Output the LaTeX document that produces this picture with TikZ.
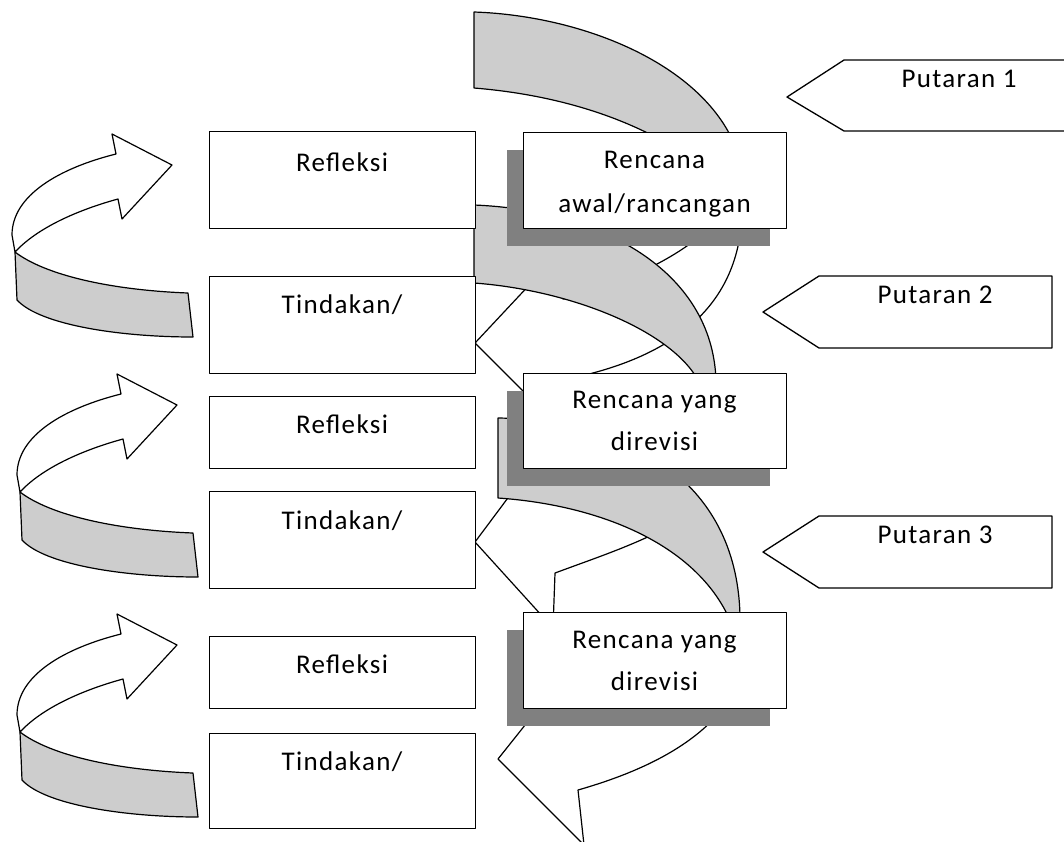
\documentclass[tikz,border=0pt]{standalone}
\usepackage{fontspec}
\setmainfont{Carlito}[LetterSpace=5]
\usetikzlibrary{shadows}
\definecolor{bandc}{RGB}{205,205,205}
\definecolor{shd}{RGB}{128,128,128}
\tikzset{
  band/.style={draw=black, line width=1.2pt, fill=bandc},
  wband/.style={draw=black, line width=1.2pt, fill=white},
  lbox/.style={draw=black, line width=1.3pt, fill=white, rectangle, anchor=north west, inner sep=0pt},
  rbox/.style={lbox, drop shadow={shadow xshift=-17pt, shadow yshift=-17pt, fill=shd, opacity=1}},
  txt/.style={anchor=base, inner sep=0pt},
  tag/.style={draw=black, line width=1.3pt, fill=white},
  curlarrow/.pic={
    \draw[wband] (172,165) -- (112,134) -- (116,154) .. controls (60,168) and (12,195) .. (12,235)
       -- (15,252) .. controls (40,225) and (85,208) .. (118,199) -- (122,219) -- cycle;
    \draw[band] (15,252) .. controls (45,275) and (110,290) .. (188,293) -- (193,337)
       .. controls (120,337) and (40,325) .. (17,300) -- cycle;
  }
}
\begin{document}
\begin{tikzpicture}[x=1pt,y=-1pt,line join=round,
  every node/.style={font=\fontsize{27}{43}\selectfont}]
\useasboundingbox (0,0) rectangle (1064,841);
\clip (0,0) rectangle (1064,841);

% left curled arrows
\pic at (0,0) {curlarrow};
\pic at (5,240) {curlarrow};
\pic at (5,480) {curlarrow};

% big spiral arrows
\draw[wband] (475,343) -- (548,265) -- (563,299) .. controls (620,285) and (680,258) .. (712,225)
  -- (742,200) .. controls (745,300) and (680,355) .. (572,378) -- (560,382) -- (532,400) -- cycle;
\draw[band] (474,12) .. controls (590,16) and (715,70) .. (740,160) -- (700,165)
  .. controls (640,120) and (560,95) .. (474,88) -- cycle;

\draw[wband] (475,542) -- (525,475) -- (545,478) .. controls (600,465) and (660,450) .. (700,445)
  -- (690,458) .. controls (690,500) and (675,525) .. (652,535)
  .. controls (620,550) and (590,560) .. (555,573) -- (553,628) -- cycle;
\draw[band] (474,205) .. controls (600,210) and (712,270) .. (716,380) -- (698,380)
  .. controls (670,330) and (570,290) .. (474,283) -- cycle;

\draw[wband] (498,759) -- (545,700) -- (565,712) .. controls (620,700) and (680,690) .. (720,680)
  -- (740,680) .. controls (712,745) and (630,775) .. (578,790) -- (584,845) -- cycle;
\draw[band] (498,418) .. controls (640,420) and (742,490) .. (740,625) -- (732,625)
  .. controls (700,545) and (600,505) .. (498,498) -- cycle;

% left boxes
\node[lbox, minimum width=266pt, minimum height=97pt] (r1) at (209,131) {};
\node[lbox, minimum width=266pt, minimum height=97pt] (t1) at (209,276) {};
\node[lbox, minimum width=266pt, minimum height=72pt] (r2) at (209,396) {};
\node[lbox, minimum width=266pt, minimum height=97pt] (t2) at (209,491) {};
\node[lbox, minimum width=266pt, minimum height=72pt] (r3) at (209,636) {};
\node[lbox, minimum width=266pt, minimum height=95pt] (t3) at (209,733) {};
\node[txt] (r1t) at (342,171) {Refleksi};
\node[txt] (t1t) at (342,313) {Tindakan/};
\node[txt] (r2t) at (342,433) {Refleksi};
\node[txt] (t2t) at (342,529) {Tindakan/};
\node[txt] (r3t) at (342,673) {Refleksi};
\node[txt] (t3t) at (342,770) {Tindakan/};

% plan boxes with shadow
\node[rbox, minimum width=263pt, minimum height=96pt] (p1) at (523,132) {};
\node[rbox, minimum width=263pt, minimum height=95pt] (p2) at (523,373) {};
\node[rbox, minimum width=263pt, minimum height=96pt] (p3) at (523,612) {};
\node[txt] (p1a) at (654.5,168) {Rencana};
\node[txt] (p1b) at (654.5,212) {awal/rancangan};
\node[txt] (p2a) at (654.5,408) {Rencana yang};
\node[txt] (p2b) at (654.5,450) {direvisi};
\node[txt] (p3a) at (654.5,648) {Rencana yang};
\node[txt] (p3b) at (654.5,690) {direvisi};

% Putaran tags
\draw[tag] (1080,60) -- (844,60) -- (787,97) -- (844,131) -- (1080,131);
\draw[tag] (1052,276) -- (819,276) -- (763,312) -- (819,348) -- (1052,348) -- cycle;
\draw[tag] (1052,516) -- (819,516) -- (763,552) -- (819,588) -- (1052,588) -- cycle;
\node[txt] (u1) at (959,87) {Putaran 1};
\node[txt] (u2) at (935,303) {Putaran 2};
\node[txt] (u3) at (935,543) {Putaran 3};
\end{tikzpicture}
\end{document}
